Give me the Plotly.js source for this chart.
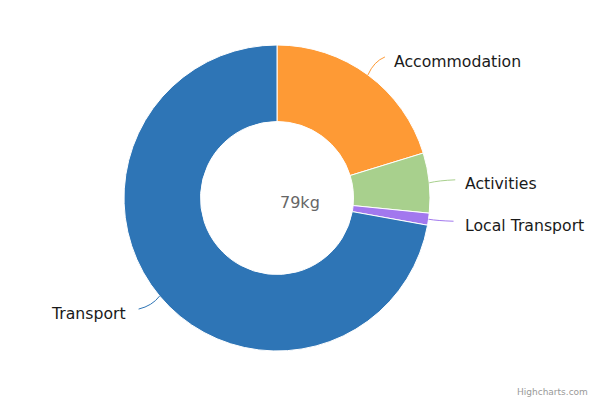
<!DOCTYPE html>
<html>
<head>
<meta charset="utf-8">
<script src="https://cdn.plot.ly/plotly-3.0.1.min.js"></script>
<style>html,body{margin:0;padding:0;background:#fff}#chart{width:600px;height:400px}</style>
</head>
<body>
<div id="chart"></div>
<script>
const categories = ["Accommodation", "Activities", "Local Transport", "Transport"];
const values = [16, 5, 1, 57];
const colors = ["#FE9A35", "#A8D08D", "#A278EE", "#2E75B6"];
const totalLabel = "79kg";

// layout (pixels)
const W = 600, H = 400;
const cx = 277, cy = 198, R = 153;
// per-label offsets from slice edge midpoint: connector end, text anchor
const connEnd = [[17, -18], [26, -3], [25, 2], [-21, 13]];
const textOff = [[25, -13], [35, 1], [35, 6], [-33, 17]];

const px = x => x / W, py = y => 1 - y / H;

const total = values.reduce((a, b) => a + b, 0);
let cum = 0;
const shapes = [], annotations = [];
values.forEach((v, i) => {
  const mid = (cum + v / 2) / total * 2 * Math.PI;
  cum += v;
  const ex = cx + R * Math.sin(mid), ey = cy - R * Math.cos(mid);
  const endx = ex + connEnd[i][0], endy = ey + connEnd[i][1];
  const ctrlx = ex + connEnd[i][0] * 0.35, ctrly = ey + connEnd[i][1] * 0.75;
  shapes.push({
    type: "path", xref: "paper", yref: "paper",
    path: `M ${px(ex)},${py(ey)} Q ${px(ctrlx)},${py(ctrly)} ${px(endx)},${py(endy)}`,
    line: {color: colors[i], width: 1}
  });
  annotations.push({
    xref: "paper", yref: "paper",
    x: px(ex + textOff[i][0]), y: py(ey + textOff[i][1]),
    xanchor: textOff[i][0] > 0 ? "left" : "right", yanchor: "middle",
    text: categories[i], showarrow: false, borderpad: 0,
    font: {family: "DejaVu Sans", size: 15.7, color: "#1a1a1a"}
  });
});
annotations.push({
  xref: "paper", yref: "paper", x: px(300), y: py(202),
  xanchor: "center", yanchor: "middle", text: totalLabel, showarrow: false,
  font: {family: "DejaVu Sans", size: 16, color: "#666666"}
});
annotations.push({
  xref: "paper", yref: "paper", x: px(590), y: py(392),
  xanchor: "right", yanchor: "middle", text: "Highcharts.com", showarrow: false,
  font: {family: "DejaVu Sans", size: 9, color: "#999999"}
});

const data = [{
  type: "pie",
  labels: categories,
  values: values,
  hole: 0.5,
  sort: false,
  direction: "clockwise",
  rotation: 0,
  textinfo: "none",
  hoverinfo: "label+value",
  marker: {colors: colors, line: {color: "#ffffff", width: 1}},
  domain: {x: [px(cx - R), px(cx + R)], y: [py(cy + R), py(cy - R)]},
  showlegend: false
}];

Plotly.newPlot("chart", data, {
  width: W, height: H,
  margin: {l: 0, r: 0, t: 0, b: 0},
  paper_bgcolor: "#ffffff",
  showlegend: false,
  shapes: shapes,
  annotations: annotations
}, {displayModeBar: false, staticPlot: true});
</script>
</body>
</html>
